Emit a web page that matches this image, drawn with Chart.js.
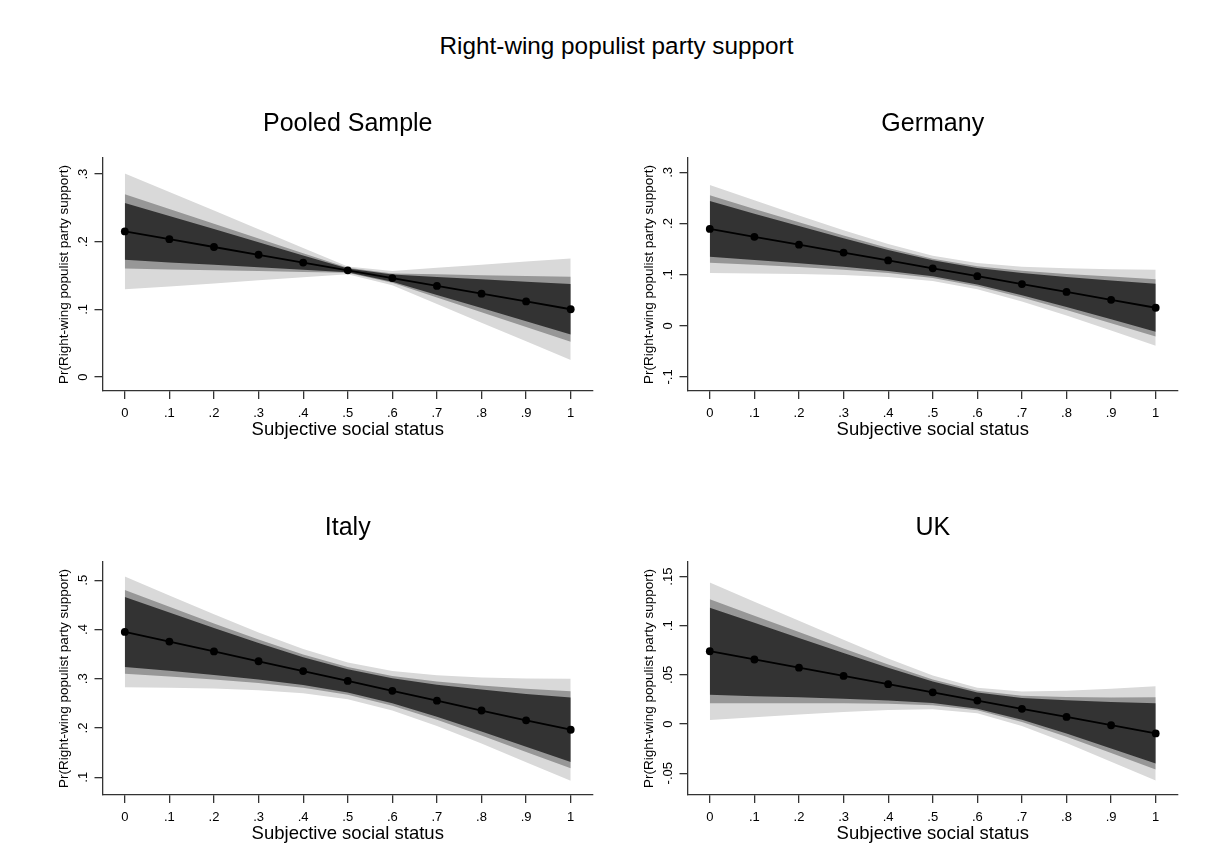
<!DOCTYPE html>
<html>
<head>
<meta charset="utf-8">
<script src="https://cdn.jsdelivr.net/npm/chart.js@4/dist/chart.umd.min.js"></script>
<style>
  body { margin: 0; background: #fff; width: 1217px; height: 867px; overflow: hidden; position: relative;
         font-family: "Liberation Sans", Arial, sans-serif; }
  #mainTitle { position: absolute; left: 8px; top: 32px; width: 1217px; text-align: center;
               font-size: 24.3px; line-height: 28px; color: #000; }
  canvas { position: absolute; }
</style>
</head>
<body>
<div id="mainTitle">Right-wing populist party support</div>
<canvas id="pooled" width="610" height="351" style="left:0px;top:90px"></canvas>
<canvas id="germany" width="607" height="351" style="left:610px;top:90px"></canvas>
<canvas id="italy" width="610" height="351" style="left:0px;top:494px"></canvas>
<canvas id="uk" width="607" height="351" style="left:610px;top:494px"></canvas>
<script>
// Subjective social status values at which predictions are shown
const statusLevels = [0, 0.1, 0.2, 0.3, 0.4, 0.5, 0.6, 0.7, 0.8, 0.9, 1];
const xTickValues = [0, 0.1, 0.2, 0.3, 0.4, 0.5, 0.6, 0.7, 0.8, 0.9, 1];

// Pooled sample: predicted probability and half-widths of the three confidence bands
const pooledFit   = [0.2153, 0.2038, 0.1923, 0.1808, 0.1693, 0.1578, 0.1463, 0.1348, 0.1233, 0.1118, 0.1003];
const pooledOuter = [0.0855, 0.0699, 0.0538, 0.0377, 0.0216, 0.0058, 0.0106, 0.0267, 0.0428, 0.0589, 0.0750];
const pooledMid   = [0.0548, 0.0447, 0.0344, 0.0241, 0.0138, 0.0037, 0.0068, 0.0171, 0.0274, 0.0377, 0.0480];
const pooledInner = [0.0419, 0.0343, 0.0264, 0.0185, 0.0106, 0.0029, 0.0053, 0.0133, 0.0213, 0.0293, 0.0373];
const pooledYTicks = [0, 0.1, 0.2, 0.3];

// Germany
const germanyFit   = [0.1895, 0.1740, 0.1586, 0.1432, 0.1278, 0.1124, 0.0970, 0.0816, 0.0662, 0.0508, 0.0353];
const germanyOuter = [0.0860, 0.0715, 0.0573, 0.0439, 0.0322, 0.0248, 0.0256, 0.0341, 0.0462, 0.0598, 0.0741];
const germanyMid   = [0.0660, 0.0545, 0.0437, 0.0335, 0.0245, 0.0189, 0.0195, 0.0260, 0.0352, 0.0456, 0.0560];
const germanyInner = [0.0545, 0.0454, 0.0364, 0.0279, 0.0204, 0.0157, 0.0163, 0.0217, 0.0293, 0.0380, 0.0470];
const germanyYTicks = [-0.1, 0, 0.1, 0.2, 0.3];

// Italy
const italyFit   = [0.3950, 0.3755, 0.3555, 0.3355, 0.3155, 0.2955, 0.2755, 0.2555, 0.2355, 0.2155, 0.1965];
const italyOuter = [0.1125, 0.0936, 0.0754, 0.0586, 0.0447, 0.0373, 0.0401, 0.0515, 0.0672, 0.0849, 0.1035];
const italyMid   = [0.0850, 0.0707, 0.0569, 0.0442, 0.0337, 0.0282, 0.0303, 0.0389, 0.0507, 0.0641, 0.0780];
const italyInner = [0.0710, 0.0592, 0.0477, 0.0370, 0.0283, 0.0236, 0.0253, 0.0325, 0.0425, 0.0537, 0.0655];
const italyYTicks = [0.1, 0.2, 0.3, 0.4, 0.5];

// UK
const ukFit   = [0.0741, 0.0657, 0.0574, 0.0490, 0.0406, 0.0323, 0.0239, 0.0155, 0.0072, -0.0012, -0.0095];
const ukOuter = [0.0700, 0.0587, 0.0476, 0.0367, 0.0262, 0.0172, 0.0130, 0.0175, 0.0266, 0.0371, 0.0480];
const ukMid   = [0.0530, 0.0446, 0.0362, 0.0279, 0.0199, 0.0131, 0.0099, 0.0133, 0.0202, 0.0282, 0.0367];
const ukInner = [0.0442, 0.0373, 0.0302, 0.0233, 0.0166, 0.0109, 0.0083, 0.0111, 0.0169, 0.0236, 0.0307];
const ukYTicks = [-0.05, 0, 0.05, 0.1, 0.15];

const FONT = '"Liberation Sans", Arial, sans-serif';
const AXIS_COLOR = '#333';
const BAND_COLORS = { outer: '#d9d9d9', mid: '#979797', inner: '#333333' };

// Stata-style numeric labels: ".3", "-.05", "0", "1"
function stataLabel(v) {
  const s = String(Math.round(v * 1000) / 1000);
  return s.replace(/^(-?)0\./, '$1.');
}

const measureCtx = document.createElement('canvas').getContext('2d');
function widestLabel(values, size) {
  measureCtx.font = size + 'px ' + FONT;
  return Math.max(...values.map(v => measureCtx.measureText(stataLabel(v)).width));
}

function bandPair(fit, hw, color, order) {
  const upper = statusLevels.map((x, i) => ({ x, y: fit[i] + hw[i] }));
  const lower = statusLevels.map((x, i) => ({ x, y: fit[i] - hw[i] }));
  const common = { borderWidth: 0, pointRadius: 0, pointHoverRadius: 0, tension: 0, order, backgroundColor: color };
  return [
    Object.assign({ data: upper, fill: false }, common),
    Object.assign({ data: lower, fill: '-1' }, common)
  ];
}

const panels = [
  { id: 'pooled',  title: 'Pooled Sample', fit: pooledFit,  outer: pooledOuter,  mid: pooledMid,  inner: pooledInner,
    yTicks: pooledYTicks,  yMin: -0.0205, yMax: 0.3238, axisWidth: 102.5, padRight: 17 },
  { id: 'germany', title: 'Germany',       fit: germanyFit, outer: germanyOuter, mid: germanyMid, inner: germanyInner,
    yTicks: germanyYTicks, yMin: -0.1275, yMax: 0.3282, axisWidth: 77.5,  padRight: 39 },
  { id: 'italy',   title: 'Italy',         fit: italyFit,   outer: italyOuter,   mid: italyMid,   inner: italyInner,
    yTicks: italyYTicks,   yMin: 0.064,   yMax: 0.537,  axisWidth: 102.5, padRight: 17 },
  { id: 'uk',      title: 'UK',            fit: ukFit,      outer: ukOuter,      mid: ukMid,      inner: ukInner,
    yTicks: ukYTicks,      yMin: -0.0722, yMax: 0.1649, axisWidth: 77.5,  padRight: 39 }
];

const TICK_LEN = 8;
const TICK_FONT = 13;
const YTITLE_FONT = 13.5;

panels.forEach(p => {
  const datasets = [
    ...bandPair(p.fit, p.outer, BAND_COLORS.outer, 3),
    ...bandPair(p.fit, p.mid, BAND_COLORS.mid, 2),
    ...bandPair(p.fit, p.inner, BAND_COLORS.inner, 1),
    {
      data: statusLevels.map((x, i) => ({ x, y: p.fit[i] })),
      borderColor: '#000', backgroundColor: '#000', borderWidth: 1.8,
      pointRadius: 3.9, pointBackgroundColor: '#000', pointBorderColor: '#000', pointBorderWidth: 0,
      fill: false, tension: 0, order: 0
    }
  ];

  // y tick labels are rotated; centre them about 19.5px left of the axis line
  const widest = widestLabel(p.yTicks, TICK_FONT);
  const yTickPad = Math.max(0, 19.5 - TICK_LEN - widest / 2);
  // y axis title sits about 38px left of the axis line
  const yTitlePad = (p.axisWidth - 38) - YTITLE_FONT * 1.2 / 2;

  new Chart(document.getElementById(p.id), {
    type: 'line',
    data: { datasets },
    options: {
      responsive: false,
      animation: false,
      devicePixelRatio: 1,
      events: [],
      layout: { padding: { left: 0, right: p.padRight, top: 0, bottom: 0 } },
      plugins: {
        legend: { display: false },
        tooltip: { enabled: false },
        title: {
          display: true, text: p.title, fullSize: false, color: '#000',
          font: { family: FONT, size: 25, weight: 'normal', lineHeight: 1.2 },
          padding: { top: 19, bottom: 19 }
        }
      },
      scales: {
        x: {
          type: 'linear', min: -0.05, max: 1.05,
          afterBuildTicks: s => { s.ticks = xTickValues.map(v => ({ value: v })); },
          afterFit: s => { s.height = 50; },
          grid: { display: true, drawOnChartArea: false, drawTicks: true, tickLength: TICK_LEN, color: AXIS_COLOR, lineWidth: 1.3 },
          border: { display: true, color: AXIS_COLOR, width: 1.3 },
          ticks: { font: { family: FONT, size: TICK_FONT }, color: '#000', padding: 7, autoSkip: false,
                   maxRotation: 0, minRotation: 0, callback: v => stataLabel(v) },
          title: { display: true, text: 'Subjective social status', color: '#000',
                   font: { family: FONT, size: 18.5, lineHeight: 1.2 }, padding: { top: 0, bottom: 0 } }
        },
        y: {
          type: 'linear', min: p.yMin, max: p.yMax,
          afterBuildTicks: s => { s.ticks = p.yTicks.map(v => ({ value: v })); },
          afterFit: s => { s.width = p.axisWidth; },
          grid: { display: true, drawOnChartArea: false, drawTicks: true, tickLength: TICK_LEN, color: AXIS_COLOR, lineWidth: 1.3 },
          border: { display: true, color: AXIS_COLOR, width: 1.3 },
          ticks: { font: { family: FONT, size: TICK_FONT }, color: '#000', padding: yTickPad, autoSkip: false,
                   minRotation: 90, maxRotation: 90, crossAlign: 'center', callback: v => stataLabel(v) },
          title: { display: true, text: 'Pr(Right-wing populist party support)', color: '#000',
                   font: { family: FONT, size: YTITLE_FONT, lineHeight: 1.2 }, padding: { top: yTitlePad, bottom: 0 } }
        }
      }
    }
  });
});
</script>
</body>
</html>
